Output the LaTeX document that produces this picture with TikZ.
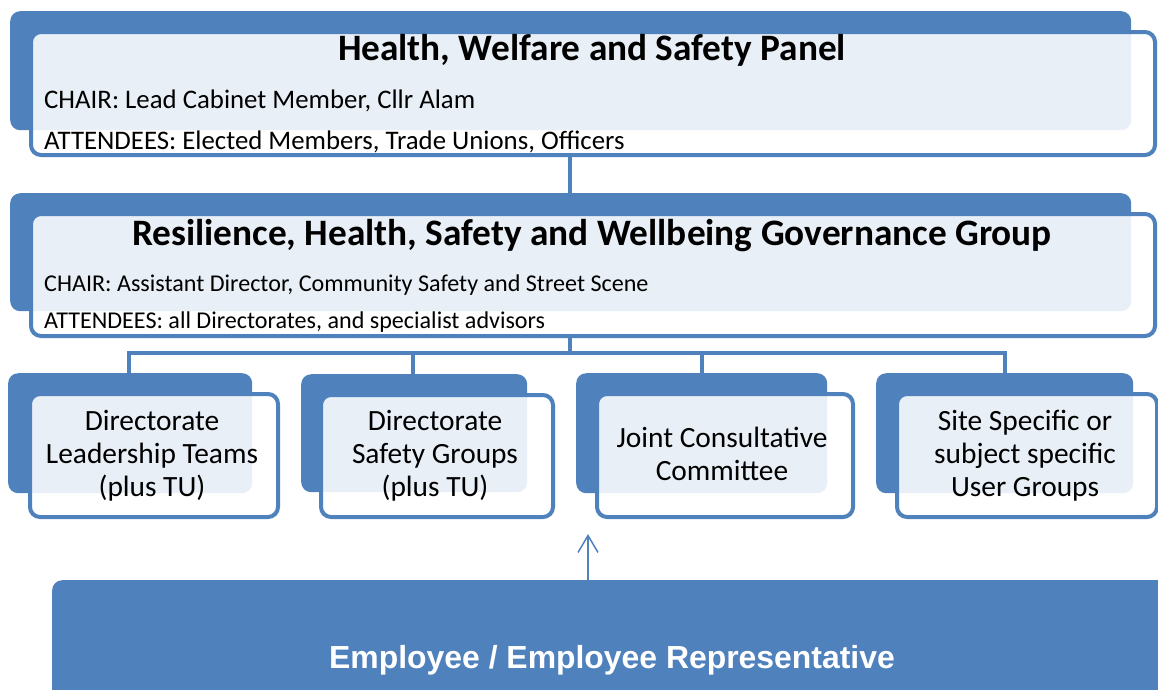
\documentclass[tikz,border=0pt]{standalone}
\usepackage{fontspec}
\setmainfont{Carlito}
\newfontfamily\arialfont{Liberation Sans}
\usetikzlibrary{arrows.meta}
\definecolor{ablue}{HTML}{4F81BD}
\begin{document}
\begin{tikzpicture}[x=1pt,y=-1pt,
  backbox/.style={fill=ablue, rounded corners=10pt, inner sep=0pt, anchor=north west},
  frontbox/.style={draw=ablue, line width=4pt, fill=white, fill opacity=0.88, draw opacity=1, rounded corners=10pt, inner sep=0pt, anchor=north west},
  conn/.style={draw=ablue, line width=4.5pt},
  titletext/.style={font=\fontsize{37.3}{40}\selectfont\bfseries, anchor=base, inner sep=0pt},
  infotext/.style={font=\fontsize{26.8}{30}\selectfont, anchor=base west, inner sep=0pt},
  infotextb/.style={font=\fontsize{24.1}{28}\selectfont, anchor=base west, inner sep=0pt},
  boxtext/.style={font=\fontsize{29.4}{33}\selectfont, align=center, inner sep=0pt},
  emptext/.style={font=\arialfont\fontsize{31.9}{36}\selectfont\bfseries, text=white, anchor=base, inner sep=0pt}
]
\useasboundingbox (0,0) rectangle (1158,689);

% connectors (behind boxes)
\coordinate (c1a) at (570,155);
\coordinate (c1b) at (570,195);
\draw[conn] (c1a) -- (c1b);
\coordinate (c2a) at (570,336);
\coordinate (bar) at (570,353);
\coordinate (bl) at (129,353);
\coordinate (br) at (1005,353);
\coordinate (d1) at (129,375);
\coordinate (d2) at (413,375);
\coordinate (d3) at (702,375);
\coordinate (d4) at (1005,375);
\draw[conn] (c2a) -- (bar);
\draw[conn, line cap=rect] (bl) -- (br);
\draw[conn] (bl) -- (d1);
\draw[conn] (413,353) -- (d2);
\draw[conn] (702,353) -- (d3);
\draw[conn] (br) -- (d4);

% panel
\node[backbox, minimum width=1121, minimum height=119] (p1b) at (10,11) {};
\node[frontbox, minimum width=1124, minimum height=123] (p1f) at (29,30) {};
\node[titletext] (p1t) at (592,60) {Health, Welfare and Safety Panel};
\node[infotext] (p1c) at (44,108) {CHAIR: Lead Cabinet Member, Cllr Alam};
\node[infotext] (p1a) at (44,149) {ATTENDEES: Elected Members, Trade Unions, Officers};

% group
\node[backbox, minimum width=1121, minimum height=118] (p2b) at (10,193) {};
\node[frontbox, minimum width=1124, minimum height=122] (p2f) at (29,212) {};
\node[titletext] (p2t) at (592,245) {Resilience, Health, Safety and Wellbeing Governance Group};
\node[infotextb] (p2c) at (44,291) {CHAIR: Assistant Director, Community Safety and Street Scene};
\node[infotextb] (p2a) at (44,328) {ATTENDEES: all Directorates, and specialist advisors};

% bottom boxes
\node[backbox, minimum width=244, minimum height=120] (b1b) at (8,373) {};
\node[frontbox, minimum width=248, minimum height=123] (b1f) at (28,392) {};
\node[boxtext] (b1t) at (152,456) {Directorate\\Leadership Teams\\(plus TU)};

\node[backbox, minimum width=226, minimum height=118] (b2b) at (301,374) {};
\node[frontbox, minimum width=232, minimum height=122] (b2f) at (319,393) {};
\node[boxtext] (b2t) at (435,456) {Directorate\\Safety Groups\\(plus TU)};

\node[backbox, minimum width=251, minimum height=120] (b3b) at (576,373) {};
\node[frontbox, minimum width=256, minimum height=123] (b3f) at (595,392) {};
\node[boxtext] (b3t) at (722,454) {Joint Consultative\\Committee};

\node[backbox, minimum width=257, minimum height=120] (b4b) at (876,373) {};
\node[frontbox, minimum width=260, minimum height=123] (b4f) at (895,392) {};
\node[boxtext] (b4t) at (1025,456) {Site Specific or\\subject specific\\User Groups};

% employee
\node[backbox, minimum width=1130, minimum height=140] (emp) at (52,580) {};
\node[emptext] (empt) at (612,668) {Employee / Employee Representative};
\coordinate (arrs) at (588,580);
\coordinate (arre) at (588,534);
\draw[ablue, line width=1.5pt, -{Straight Barb[length=17pt, width=20pt]}] (arrs) -- (arre);
\end{tikzpicture}
\end{document}
